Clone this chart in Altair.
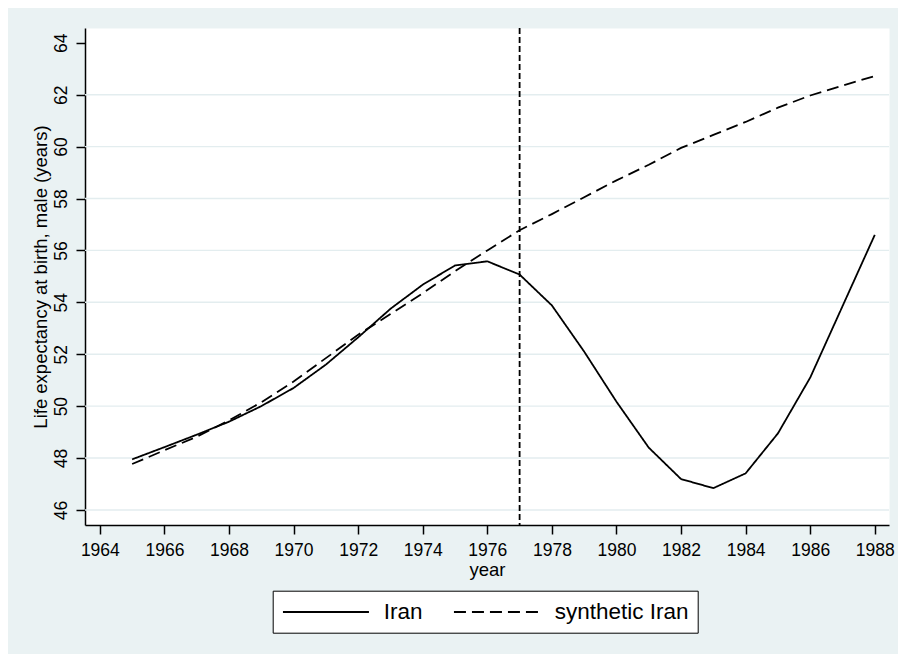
import altair as alt
import pandas as pd

years = list(range(1965, 1989))
iran = [47.95, 48.42, 48.90, 49.40, 50.00, 50.70, 51.60, 52.65, 53.75, 54.68,
        55.42, 55.58, 55.07, 53.88, 52.10, 50.17, 48.40, 47.19, 46.84, 47.41,
        48.95, 51.10, 53.85, 56.60]
synthetic = [47.77, 48.30, 48.82, 49.45, 50.15, 50.95, 51.85, 52.75, 53.55, 54.35,
             55.20, 56.00, 56.78, 57.40, 58.05, 58.70, 59.30, 59.95, 60.45, 60.95,
             61.50, 61.97, 62.35, 62.72]
series_names = ["Iran", "synthetic Iran"]
treatment_year = [1977]
grid_values = [46, 48, 50, 52, 54, 56, 58, 60, 62]
x_ticks = list(range(1964, 1989, 2))
y_ticks = list(range(46, 65, 2))

df = pd.DataFrame({
    "year": years * 2,
    "value": iran + synthetic,
    "series": [series_names[0]] * len(years) + [series_names[1]] * len(years),
})
grid_df = pd.DataFrame({"value": grid_values})
treat_df = pd.DataFrame({"year": treatment_year})

FONT = "Liberation Sans"
BG = "#EAF2F3"

x_scale = alt.Scale(domain=[1963.54, 1988.44], nice=False, zero=False)
y_scale = alt.Scale(domain=[45.42, 64.57], nice=False, zero=False)

x_axis = alt.Axis(values=x_ticks, format="d", title="year", labelPadding=7,
                  titlePadding=2)
y_axis = alt.Axis(values=y_ticks, format="d",
                  title="Life expectancy at birth, male (years)",
                  labelAngle=270, labelPadding=6, titlePadding=2)

grid = alt.Chart(grid_df).mark_rule(color="#E3EDEF", strokeWidth=1.4).encode(
    y=alt.Y("value:Q", scale=y_scale, axis=y_axis)
)

lines = alt.Chart(df).mark_line(color="black", strokeWidth=1.8).encode(
    x=alt.X("year:Q", scale=x_scale, axis=x_axis),
    y=alt.Y("value:Q", scale=y_scale, axis=y_axis),
    strokeDash=alt.StrokeDash(
        "series:N",
        scale=alt.Scale(domain=series_names, range=[[1, 0], [12, 6]]),
        legend=alt.Legend(
            title=None,
            orient="none",
            legendX=187.7,
            legendY=562.7,
            direction="horizontal",
            fillColor="white",
            strokeColor="black",
            padding=9,
            cornerRadius=0,
            labelFont=FONT,
            labelFontSize=22.5,
            labelColor="black",
            labelOffset=78,
            columnPadding=27,
            symbolType="M-1,0H7",
            symbolSize=462.25,
            symbolStrokeWidth=2,
            symbolStrokeColor="black",
            symbolFillColor="transparent",
        ),
    ),
)

vline = alt.Chart(treat_df).mark_rule(color="black", strokeWidth=1.8,
                                      strokeDash=[6, 3]).encode(
    x=alt.X("year:Q", scale=x_scale, axis=x_axis)
)

chart = alt.layer(grid, lines, vline).properties(
    width=804,
    height=497,
    background=BG,
    autosize=alt.AutoSizeParams(type="none"),
    padding={"left": 77, "top": 20, "right": 9, "bottom": 129},
).configure_view(
    fill="white", stroke="transparent"
).configure_axis(
    grid=False,
    domainColor="black",
    domainWidth=1.5,
    tickColor="black",
    tickWidth=1.5,
    tickSize=9,
    labelFont=FONT,
    labelFontSize=17.5,
    labelColor="black",
    titleFont=FONT,
    titleFontSize=18.5,
    titleFontWeight="normal",
    titleColor="black",
)

chart.save("out.html", embed_options={"renderer": "svg", "actions": False})
